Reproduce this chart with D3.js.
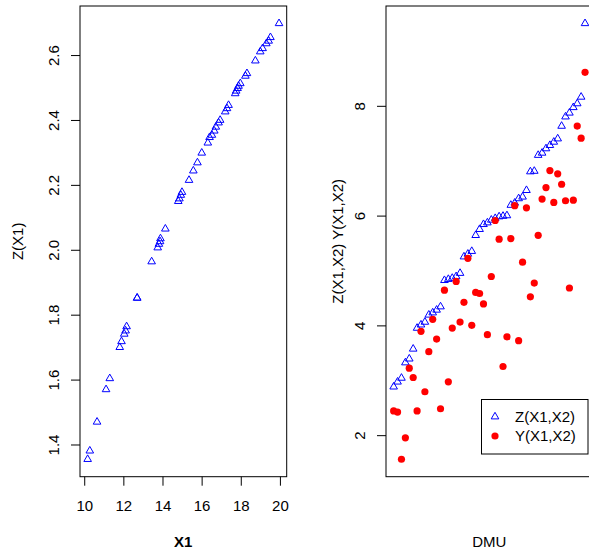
<!DOCTYPE html>
<html>
<head>
    <meta charset="utf-8">
    <style>
        body { margin: 0; background: #fff; }
        text { font-family: "Liberation Sans", Arial, sans-serif; font-size: 15px; fill: #000; }
        .frame { fill: none; stroke: #000; stroke-width: 1px; }
        .tick { stroke: #000; stroke-width: 1px; }
    </style>
</head>
<body>
<script src="https://cdnjs.cloudflare.com/ajax/libs/d3/7.8.5/d3.min.js"></script>
<script>

// left panel: Z(X1) against X1
var x1 = [10.15, 10.26, 10.63, 11.09, 11.28, 11.79, 11.88, 12.02, 12.09, 12.14,
          12.68, 12.68, 13.42, 13.73, 13.79, 13.85, 13.87, 14.12, 14.78, 14.84,
          14.91, 14.97, 15.33, 15.55, 15.76, 15.98, 16.29, 16.38, 16.50, 16.62,
          16.70, 16.84, 16.92, 17.18, 17.27, 17.35, 17.69, 17.74, 17.81, 17.86,
          17.95, 18.21, 18.29, 18.72, 18.97, 19.09, 19.28, 19.40, 19.49, 19.93];
var zX1 = [1.356, 1.382, 1.471, 1.571, 1.605, 1.701, 1.719, 1.742, 1.752, 1.765,
           1.853, 1.853, 1.965, 2.008, 2.019, 2.027, 2.036, 2.066, 2.151, 2.159,
           2.170, 2.179, 2.216, 2.245, 2.270, 2.300, 2.331, 2.348, 2.355, 2.368,
           2.380, 2.393, 2.401, 2.427, 2.437, 2.447, 2.483, 2.491, 2.499, 2.506,
           2.514, 2.537, 2.545, 2.584, 2.612, 2.622, 2.637, 2.645, 2.656, 2.699];

// right panel: per DMU
var zX1X2 = [2.89, 2.98, 3.05, 3.33, 3.40, 3.58, 3.96, 4.02, 4.07, 4.20,
             4.24, 4.29, 4.35, 4.83, 4.85, 4.87, 4.90, 4.96, 5.26, 5.31,
             5.36, 5.65, 5.76, 5.85, 5.88, 5.93, 5.96, 5.99, 6.00, 6.01,
             6.20, 6.24, 6.32, 6.35, 6.47, 6.81, 6.82, 7.11, 7.15, 7.23,
             7.29, 7.35, 7.41, 7.64, 7.81, 7.88, 7.98, 8.05, 8.17, 9.51];
var yX1X2 = [2.45, 2.43, 1.57, 1.96, 3.23, 3.06, 2.45, 3.90, 2.80, 3.53,
             4.12, 3.76, 2.49, 4.65, 2.98, 3.96, 4.81, 4.07, 4.43, 5.23,
             4.01, 4.61, 4.59, 4.40, 3.84, 4.90, 5.92, 5.58, 3.26, 3.80,
             5.59, 6.19, 3.73, 5.16, 6.15, 4.53, 4.78, 5.65, 6.31, 6.52,
             6.83, 6.25, 6.77, 6.58, 6.28, 4.69, 6.29, 7.64, 7.42, 8.62];
var dmu = d3.range(1, zX1X2.length + 1);

var x1Ticks = [10, 12, 14, 16, 18, 20];
var zX1Ticks = [1.4, 1.6, 1.8, 2.0, 2.2, 2.4, 2.6];
var rightTicks = [2, 4, 6, 8];
var legendLabels = ["Z(X1,X2)", "Y(X1,X2)"];

var width = 589, height = 554;
var plotTop = 6, plotBottom = 476.7;

var svg = d3.select("body").append("svg")
    .attr("width", width)
    .attr("height", height);

// R style axis range: data extent plus 4% either side
function rDomain(vals) {
    var e = d3.extent(vals), p = (e[1] - e[0]) * 0.04;
    return [e[0] - p, e[1] + p];
}

// open triangle (pch 2) centred on its centroid
function triangle(r) {
    var h = r * Math.sqrt(3) / 2;
    return "M0," + (-r) + "L" + h + "," + (r / 2) + "L" + (-h) + "," + (r / 2) + "Z";
}

function yLabel(g, text, cx, cy) {
    g.append("text")
        .attr("transform", "translate(" + cx + "," + cy + ") rotate(-90)")
        .attr("text-anchor", "middle")
        .attr("dy", "0.36em")
        .text(text);
}

// ---------- left panel ----------
var lx = d3.scaleLinear().domain(rDomain(x1)).range([80, 286.7]);
var ly = d3.scaleLinear().domain(rDomain(zX1)).range([plotBottom, plotTop]);
var left = svg.append("g");

left.append("rect").attr("class", "frame")
    .attr("x", 80).attr("y", plotTop)
    .attr("width", 206.7).attr("height", plotBottom - plotTop);

left.selectAll(".xt").data(x1Ticks).enter().append("line")
    .attr("class", "tick")
    .attr("x1", function (d) { return lx(d); })
    .attr("x2", function (d) { return lx(d); })
    .attr("y1", plotBottom).attr("y2", plotBottom + 9);
left.selectAll(".xl").data(x1Ticks).enter().append("text")
    .attr("x", function (d) { return lx(d); })
    .attr("y", 510.5)
    .attr("text-anchor", "middle")
    .text(function (d) { return d; });

left.selectAll(".yt").data(zX1Ticks).enter().append("line")
    .attr("class", "tick")
    .attr("x1", 71).attr("x2", 80)
    .attr("y1", function (d) { return ly(d); })
    .attr("y2", function (d) { return ly(d); });
zX1Ticks.forEach(function (d) {
    yLabel(left, d.toFixed(1), 54, ly(d));
});

left.append("text")
    .attr("x", 183.3).attr("y", 546.5)
    .attr("text-anchor", "middle")
    .style("font-weight", "bold")
    .text("X1");
yLabel(left, "Z(X1)", 18, (plotTop + plotBottom) / 2);

left.selectAll(".pt").data(x1).enter().append("path")
    .attr("d", triangle(4.4))
    .attr("transform", function (d, i) { return "translate(" + lx(d) + "," + ly(zX1[i]) + ")"; })
    .style("fill", "none")
    .style("stroke", "#0000ff")
    .style("stroke-width", "1px");

// ---------- right panel ----------
var rx = d3.scaleLinear().domain(rDomain(dmu)).range([386, 592.7]);
var ry = d3.scaleLinear().domain(rDomain(zX1X2.concat(yX1X2))).range([plotBottom, plotTop]);
var right = svg.append("g");

right.append("rect").attr("class", "frame")
    .attr("x", 386).attr("y", plotTop)
    .attr("width", 206.7).attr("height", plotBottom - plotTop);

right.selectAll(".yt").data(rightTicks).enter().append("line")
    .attr("class", "tick")
    .attr("x1", 377).attr("x2", 386)
    .attr("y1", function (d) { return ry(d); })
    .attr("y2", function (d) { return ry(d); });
rightTicks.forEach(function (d) {
    yLabel(right, d, 360, ry(d));
});

right.append("text")
    .attr("x", 489.3).attr("y", 546.5)
    .attr("text-anchor", "middle")
    .text("DMU");
yLabel(right, "Z(X1,X2) Y(X1,X2)", 337.5, (plotTop + plotBottom) / 2);

right.selectAll(".zt").data(zX1X2).enter().append("path")
    .attr("d", triangle(4.4))
    .attr("transform", function (d, i) { return "translate(" + rx(dmu[i]) + "," + ry(d) + ")"; })
    .style("fill", "none")
    .style("stroke", "#0000ff")
    .style("stroke-width", "1px");

right.selectAll(".yc").data(yX1X2).enter().append("circle")
    .attr("cx", function (d, i) { return rx(dmu[i]); })
    .attr("cy", function (d) { return ry(d); })
    .attr("r", 3.6)
    .style("fill", "#ff0000");

// legend
var legend = right.append("g");
legend.append("rect").attr("class", "frame")
    .attr("x", 481.5).attr("y", 399.5)
    .attr("width", 106.5).attr("height", 54.5);
legend.append("path")
    .attr("d", triangle(4.4))
    .attr("transform", "translate(495,416.7)")
    .style("fill", "none")
    .style("stroke", "#0000ff");
legend.append("circle")
    .attr("cx", 495).attr("cy", 436)
    .attr("r", 3.6)
    .style("fill", "#ff0000");
legend.selectAll(".lt").data(legendLabels).enter().append("text")
    .attr("x", 515)
    .attr("y", function (d, i) { return 416.7 + i * 19.3 + 5.4; })
    .text(function (d) { return d; });

</script>
</body>
</html>
